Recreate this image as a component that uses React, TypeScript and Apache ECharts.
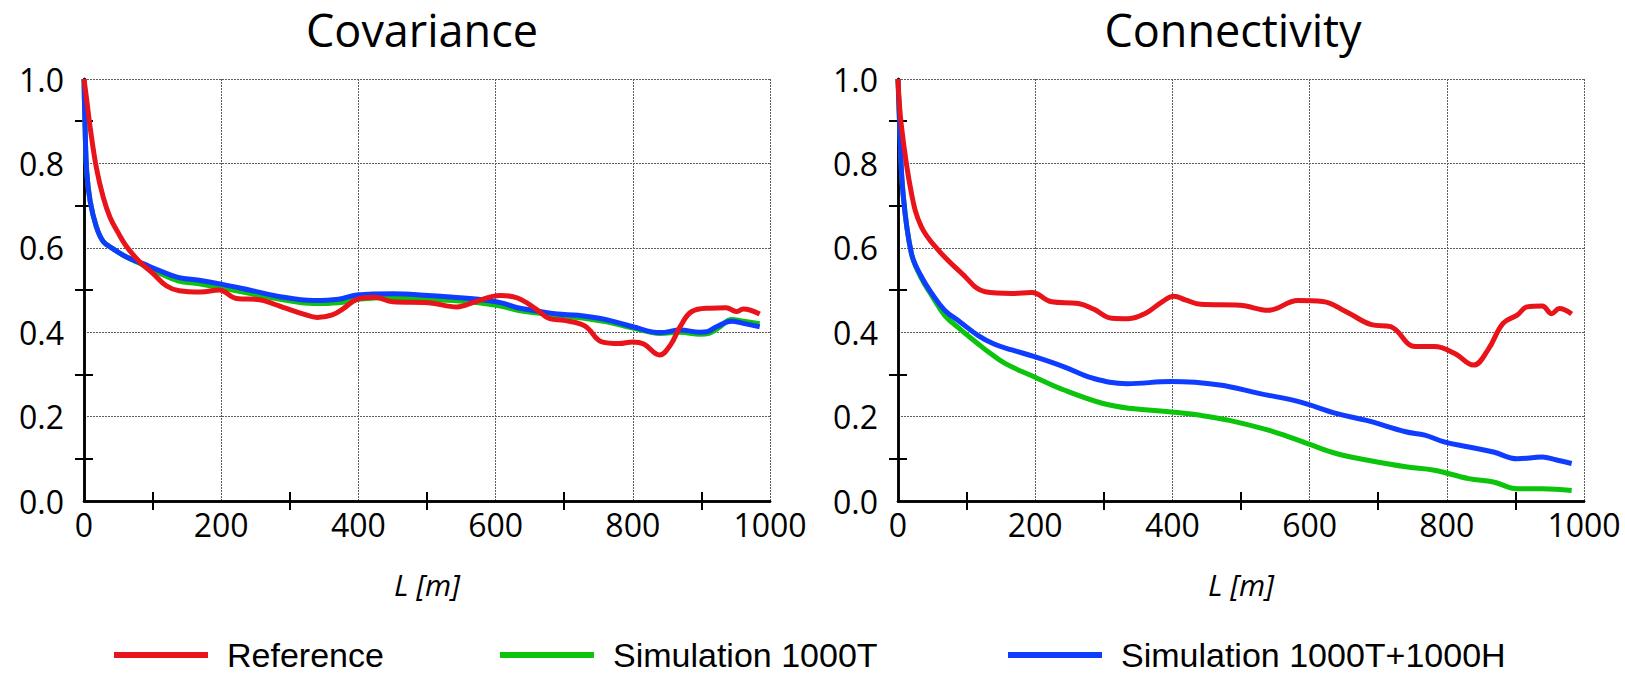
import React, { useEffect, useRef } from "react";
import * as echarts from "echarts";

const panelTitles = ["Covariance", "Connectivity"];
const seriesNames = ["Reference", "Simulation 1000T", "Simulation 1000T+1000H"];
const seriesColors = ["#e8141a", "#0cc40c", "#0f3dff"];
const xAxisName = "L [m]";

// Covariance panel: [L, value]
const covReference = [
  [0, 1.0], [4, 0.95], [9, 0.885], [18, 0.79], [28, 0.72], [38, 0.672], [50, 0.635], [62, 0.603],
  [81, 0.567], [100, 0.54], [120, 0.51], [139, 0.498], [170, 0.495], [197, 0.5], [222, 0.48],
  [256, 0.477], [275, 0.468], [294, 0.457], [320, 0.443], [340, 0.435], [362, 0.441], [378, 0.456],
  [398, 0.478], [424, 0.483], [450, 0.472], [502, 0.47], [544, 0.46], [570, 0.472], [607, 0.487],
  [632, 0.481], [658, 0.456], [679, 0.432], [700, 0.428], [730, 0.415], [755, 0.377], [780, 0.373],
  [800, 0.377], [816, 0.372], [839, 0.346], [855, 0.37], [869, 0.413], [886, 0.449], [912, 0.457],
  [936, 0.458], [951, 0.449], [961, 0.455], [985, 0.443],
];
const covSim1000T = [
  [0, 1.0], [1.5, 0.89], [4, 0.78], [9, 0.71], [18, 0.65], [28, 0.615], [43, 0.597], [62, 0.578],
  [85, 0.56], [110, 0.54], [137, 0.522], [168, 0.515], [200, 0.505], [241, 0.492], [280, 0.48],
  [335, 0.468], [371, 0.47], [398, 0.478], [450, 0.482], [502, 0.478], [539, 0.475], [575, 0.47],
  [607, 0.462], [632, 0.452], [658, 0.446], [690, 0.44], [720, 0.435], [760, 0.425], [800, 0.41],
  [840, 0.397], [869, 0.4], [898, 0.395], [912, 0.398], [925, 0.41], [944, 0.43], [961, 0.426],
  [985, 0.42],
];
const covSim1000T1000H = [
  [0, 1.0], [1.5, 0.89], [4, 0.78], [9, 0.71], [18, 0.65], [28, 0.615], [43, 0.597], [62, 0.578],
  [85, 0.563], [110, 0.546], [137, 0.53], [168, 0.523], [200, 0.514], [241, 0.5], [280, 0.486],
  [335, 0.475], [371, 0.478], [398, 0.488], [450, 0.491], [502, 0.487], [539, 0.483], [575, 0.478],
  [607, 0.47], [632, 0.458], [658, 0.451], [690, 0.443], [720, 0.44], [760, 0.43], [800, 0.413],
  [840, 0.399], [869, 0.405], [898, 0.4], [908, 0.401], [922, 0.413], [944, 0.426], [961, 0.421],
  [985, 0.413],
];

// Connectivity panel: [L, value]
const conReference = [
  [0, 1.0], [5, 0.888], [19.5, 0.73], [34, 0.65], [58.5, 0.595], [92.6, 0.54], [127, 0.496],
  [166, 0.492], [195, 0.494], [224, 0.472], [263, 0.468], [285, 0.455], [312, 0.433], [336, 0.432],
  [361, 0.445], [385, 0.472], [402, 0.485], [420, 0.476], [441, 0.466], [498, 0.464], [540, 0.452],
  [583, 0.475], [619, 0.473], [654, 0.448], [690, 0.418], [718, 0.413], [754, 0.366], [782, 0.366],
  [811, 0.35], [839, 0.322], [860, 0.358], [882, 0.421], [903, 0.441], [917, 0.46], [939, 0.462],
  [953, 0.444], [964, 0.456], [982, 0.443],
];
const conSim1000T = [
  [0, 1.0], [2.5, 0.888], [7.3, 0.73], [19.5, 0.587], [34, 0.528], [50, 0.485], [68, 0.44],
  [90, 0.408], [117, 0.372], [128, 0.358], [156, 0.326], [199, 0.294], [242, 0.263], [299, 0.231],
  [341, 0.219], [398, 0.211], [441, 0.203], [483, 0.191], [548, 0.164], [597, 0.136], [640, 0.112],
  [683, 0.097], [740, 0.081], [782, 0.073], [832, 0.053], [868, 0.045], [903, 0.029], [939, 0.029],
  [982, 0.025],
];
const conSim1000T1000H = [
  [0, 1.0], [2.5, 0.888], [7.3, 0.73], [19.5, 0.587], [34, 0.532], [50, 0.49], [68, 0.452],
  [90, 0.425], [117, 0.392], [140, 0.372], [166, 0.358], [199, 0.342], [242, 0.318], [284, 0.291],
  [334, 0.278], [398, 0.283], [469, 0.275], [526, 0.255], [583, 0.236], [640, 0.207], [683, 0.191],
  [740, 0.164], [768, 0.156], [796, 0.14], [832, 0.128], [868, 0.116], [903, 0.1], [939, 0.104],
  [960, 0.097], [982, 0.089],
];

const FONT = "'Open Sans', 'DejaVu Sans', sans-serif";

export default function App() {
  const ref = useRef<HTMLDivElement>(null);

  useEffect(() => {
    if (!ref.current) return;
    const chart = echarts.init(ref.current, undefined, { renderer: "svg" });

    const grids = [
      { left: 84, top: 79, width: 686, height: 422 },
      { left: 898, top: 79, width: 686, height: 422 },
    ];
    const titleCenters = [417, 1228];

    const axisLine = { show: true, lineStyle: { color: "#000", width: 2.5 } };
    const dotted = { show: true, lineStyle: { color: "#5e5e5e", width: 1, type: [2, 1] as any } };
    const hiddenTick = { show: false, inside: true };
    const minorTick = { show: true, splitNumber: 2, length: 9, lineStyle: { color: "#000", width: 2 } };

    const xAxes: any[] = [];
    const yAxes: any[] = [];
    grids.forEach((_, gi) => {
      xAxes.push({
        type: "value", gridIndex: gi, min: 0, max: 1000, interval: 200, position: "bottom",
        axisLine, axisTick: hiddenTick, minorTick,
        axisLabel: { color: "#000", fontSize: 32, fontFamily: FONT, margin: 7, formatter: (v: number) => String(v) },
        splitLine: dotted,
        name: xAxisName, nameLocation: "middle", nameGap: 68,
        nameTextStyle: { color: "#000", fontSize: 30, fontStyle: "italic", fontFamily: FONT },
      });
      xAxes.push({
        type: "value", gridIndex: gi, min: 0, max: 1000, interval: 200, position: "top",
        axisLine, axisTick: hiddenTick, minorTick,
        axisLabel: { show: false }, splitLine: { show: false },
      });
      yAxes.push({
        type: "value", gridIndex: gi, min: 0, max: 1, interval: 0.2, position: "left",
        axisLine, axisTick: hiddenTick, minorTick,
        axisLabel: { color: "#000", fontSize: 32, fontFamily: FONT, margin: 20, formatter: (v: number) => v.toFixed(1) },
        splitLine: dotted,
      });
      yAxes.push({
        type: "value", gridIndex: gi, min: 0, max: 1, interval: 0.2, position: "right",
        axisLine, axisTick: hiddenTick, minorTick,
        axisLabel: { show: false }, splitLine: { show: false },
      });
    });

    const panels = [
      [covReference, covSim1000T, covSim1000T1000H],
      [conReference, conSim1000T, conSim1000T1000H],
    ];
    const series: any[] = [];
    panels.forEach((sets, gi) => {
      [1, 2, 0].forEach((si) => {
        series.push({
          type: "line", name: seriesNames[si], xAxisIndex: gi * 2, yAxisIndex: gi * 2,
          data: sets[si], smooth: 0.4, showSymbol: false, symbol: "none",
          lineStyle: { color: seriesColors[si], width: 5 }, itemStyle: { color: seriesColors[si] },
          z: si === 0 ? 3 : 2,
        });
      });
    });

    const legendLefts = [114, 500, 1008];
    const legends = seriesNames.map((n, i) => ({
      data: [n], left: legendLefts[i], top: 638, padding: 0, icon: "rect", itemWidth: 94, itemHeight: 6,
      itemGap: 0, selectedMode: false,
      textStyle: {
        color: "#000", fontSize: 34, lineHeight: 34,
        fontFamily: "'Liberation Sans', Arial, sans-serif", padding: [0, 0, 0, 14],
      },
    }));

    chart.setOption({
      animation: false,
      backgroundColor: "#fff",
      title: panelTitles.map((t, i) => ({
        text: t, left: titleCenters[i], top: 2, textAlign: "center",
        textStyle: { color: "#000", fontSize: 45, fontWeight: "normal", fontFamily: FONT },
      })),
      legend: legends,
      grid: grids,
      xAxis: xAxes,
      yAxis: yAxes,
      series,
    });

    return () => chart.dispose();
  }, []);

  return (
    <div
      ref={ref}
      style={{ position: "fixed", left: 0, top: 0, width: 1625, height: 674, background: "#fff" }}
    />
  );
}
